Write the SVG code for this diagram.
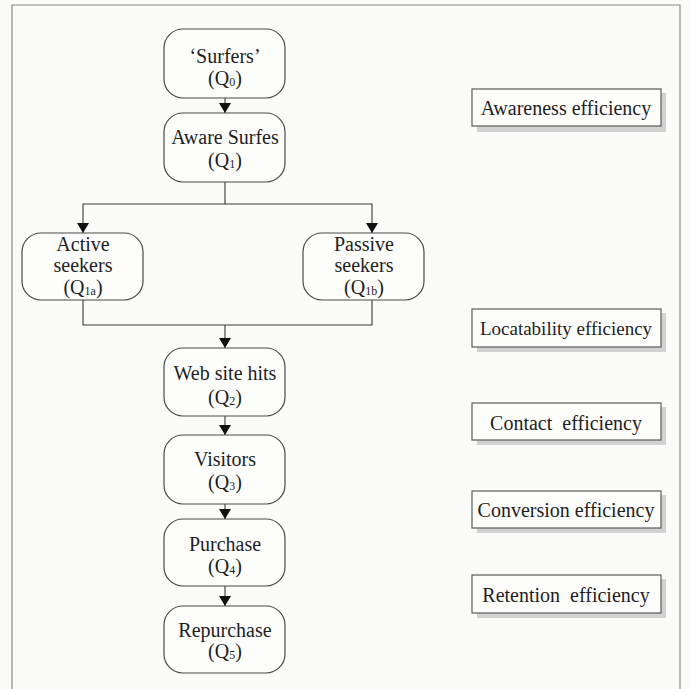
<svg xmlns="http://www.w3.org/2000/svg" width="690" height="689" viewBox="0 0 690 689">
<style>
.node rect{fill:#fdfdfb;stroke:#4a4a4a;stroke-width:1.2}
.eff rect.b{fill:#fdfdfb;stroke:#5a5a5a;stroke-width:1.2}
.eff rect.s{fill:#d2d2d2}
text{font-family:"Liberation Serif","Times New Roman",serif;font-size:20px;fill:#1e1e1e;text-anchor:middle}
.sub{font-size:12px}
.conn{fill:none;stroke:#3a3a3a;stroke-width:1.1}
</style>
<defs>
<marker id="ah" viewBox="0 0 10 12" refX="10" refY="6" markerWidth="10" markerHeight="12" markerUnits="userSpaceOnUse" orient="auto">
<path d="M0,0 L10,6 L0,12 Z" fill="#111"/>
</marker>
</defs>
<rect width="690" height="689" fill="#fbfbf9"/>
<path d="M12,689 V5 H680 V689" fill="none" stroke="#8a8a8a" stroke-width="1.2"/>
<g id="connectors" class="conn">
<path d="M225,98 V113" marker-end="url(#ah)"/>
<path d="M225,182 V204 H83 V233" marker-end="url(#ah)"/>
<path d="M225,204 H372 V233" marker-end="url(#ah)"/>
<path d="M83,300 V325 H372 V300"/>
<path d="M225,325 V348" marker-end="url(#ah)"/>
<path d="M225,416 V435" marker-end="url(#ah)"/>
<path d="M225,504 V519" marker-end="url(#ah)"/>
<path d="M225,586 V606" marker-end="url(#ah)"/>
</g>
<g id="surfers" class="node"><rect x="164" y="29" width="121" height="69" rx="19"/><text x="225" y="63">‘Surfers’</text><text x="225" y="85">(Q<tspan class="sub" dy="1">0</tspan><tspan dy="-1">)</tspan></text></g>
<g id="aware" class="node"><rect x="164" y="113" width="121" height="69" rx="19"/><text x="225" y="144">Aware Surfes</text><text x="225" y="167">(Q<tspan class="sub" dy="1">1</tspan><tspan dy="-1">)</tspan></text></g>
<g id="active" class="node"><rect x="22" y="233" width="121" height="67" rx="19"/><text x="83" y="251">Active</text><text x="83" y="272">seekers</text><text x="83" y="294">(Q<tspan class="sub" dy="1">1a</tspan><tspan dy="-1">)</tspan></text></g>
<g id="passive" class="node"><rect x="303" y="233" width="121" height="67" rx="19"/><text x="364" y="251">Passive</text><text x="364" y="272">seekers</text><text x="364" y="294">(Q<tspan class="sub" dy="1">1b</tspan><tspan dy="-1">)</tspan></text></g>
<g id="hits" class="node"><rect x="164" y="348" width="121" height="68" rx="19"/><text x="225" y="380">Web site hits</text><text x="225" y="404">(Q<tspan class="sub" dy="1">2</tspan><tspan dy="-1">)</tspan></text></g>
<g id="visitors" class="node"><rect x="164" y="435" width="121" height="69" rx="19"/><text x="225" y="466">Visitors</text><text x="225" y="489">(Q<tspan class="sub" dy="1">3</tspan><tspan dy="-1">)</tspan></text></g>
<g id="purchase" class="node"><rect x="164" y="519" width="121" height="67" rx="19"/><text x="225" y="551">Purchase</text><text x="225" y="573">(Q<tspan class="sub" dy="1">4</tspan><tspan dy="-1">)</tspan></text></g>
<g id="repurchase" class="node"><rect x="164" y="606" width="121" height="67" rx="19"/><text x="225" y="637">Repurchase</text><text x="225" y="658">(Q<tspan class="sub" dy="1">5</tspan><tspan dy="-1">)</tspan></text></g>
<g id="eff-awareness" class="eff"><rect class="s" x="477" y="93" width="189" height="39"/><rect class="b" x="472" y="89" width="189" height="37"/><text x="566" y="115">Awareness efficiency</text></g>
<g id="eff-locatability" class="eff"><rect class="s" x="477" y="313" width="189" height="39"/><rect class="b" x="472" y="309" width="189" height="38"/><text x="566" y="335" style="font-size:19px">Locatability efficiency</text></g>
<g id="eff-contact" class="eff"><rect class="s" x="477" y="407" width="189" height="38"/><rect class="b" x="472" y="403" width="189" height="37"/><text x="566" y="430" xml:space="preserve">Contact  efficiency</text></g>
<g id="eff-conversion" class="eff"><rect class="s" x="477" y="495" width="189" height="38"/><rect class="b" x="472" y="491" width="189" height="37"/><text x="566" y="517">Conversion efficiency</text></g>
<g id="eff-retention" class="eff"><rect class="s" x="477" y="579" width="189" height="39"/><rect class="b" x="472" y="575" width="189" height="38"/><text x="566" y="602" xml:space="preserve">Retention  efficiency</text></g>
</svg>
